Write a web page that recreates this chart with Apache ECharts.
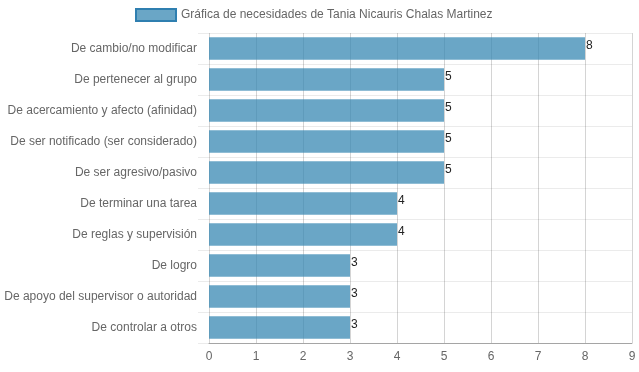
<!DOCTYPE html>
<html>
<head>
<meta charset="utf-8">
<script src="https://cdn.jsdelivr.net/npm/echarts@6/dist/echarts.min.js"></script>
<style>html,body{margin:0;padding:0;background:#fff}#c{width:639px;height:372px}</style>
</head>
<body>
<div id="c"></div>
<script>
const seriesName = 'Gráfica de necesidades de Tania Nicauris Chalas Martinez';
const categories = [
  'De cambio/no modificar',
  'De pertenecer al grupo',
  'De acercamiento y afecto (afinidad)',
  'De ser notificado (ser considerado)',
  'De ser agresivo/pasivo',
  'De terminar una tarea',
  'De reglas y supervisión',
  'De logro',
  'De apoyo del supervisor o autoridad',
  'De controlar a otros'
];
const values = [8, 5, 5, 5, 5, 4, 4, 3, 3, 3];
const xTicks = [0, 1, 2, 3, 4, 5, 6, 7, 8, 9];

const chart = echarts.init(document.getElementById('c'));
const font = 'Liberation Sans, Arial, Helvetica, sans-serif';
chart.setOption({
  animation: false,
  textStyle: { fontFamily: font },
  legend: {
    left: 135, top: 8, padding: 0,
    itemWidth: 40, itemHeight: 12, itemGap: 10,
    icon: 'rect',
    textStyle: { color: '#666', fontSize: 12, fontFamily: font },
    itemStyle: { borderColor: '#2f7fb0', borderWidth: 2 },
    data: [seriesName]
  },
  grid: { left: 209, right: 7, top: 33, bottom: 29, containLabel: false },
  xAxis: {
    type: 'value', min: xTicks[0], max: xTicks[xTicks.length - 1], interval: 1,
    axisLine: { show: true, lineStyle: { color: 'rgba(0,0,0,0.3)' } },
    axisTick: { show: false },
    axisLabel: { color: '#666', fontSize: 12, margin: 8, fontFamily: font },
    splitLine: { show: true, lineStyle: { color: 'rgba(0,0,0,0.17)' } }
  },
  yAxis: {
    type: 'category', inverse: true, data: categories,
    axisLine: { show: false },
    axisTick: { show: true, length: 11, lineStyle: { color: 'rgba(0,0,0,0.08)' } },
    axisLabel: { color: '#666', fontSize: 12, margin: 12, fontFamily: font },
    splitLine: { show: true, lineStyle: { color: 'rgba(0,0,0,0.08)' } }
  },
  series: [{
    name: seriesName,
    type: 'bar',
    data: values,
    barWidth: '72%',
    itemStyle: { color: 'rgba(54,135,178,0.74)' },
    label: { show: true, position: 'right', distance: 1, offset: [0, -3], color: '#222', fontSize: 12, fontFamily: font }
  }]
});
</script>
</body>
</html>
